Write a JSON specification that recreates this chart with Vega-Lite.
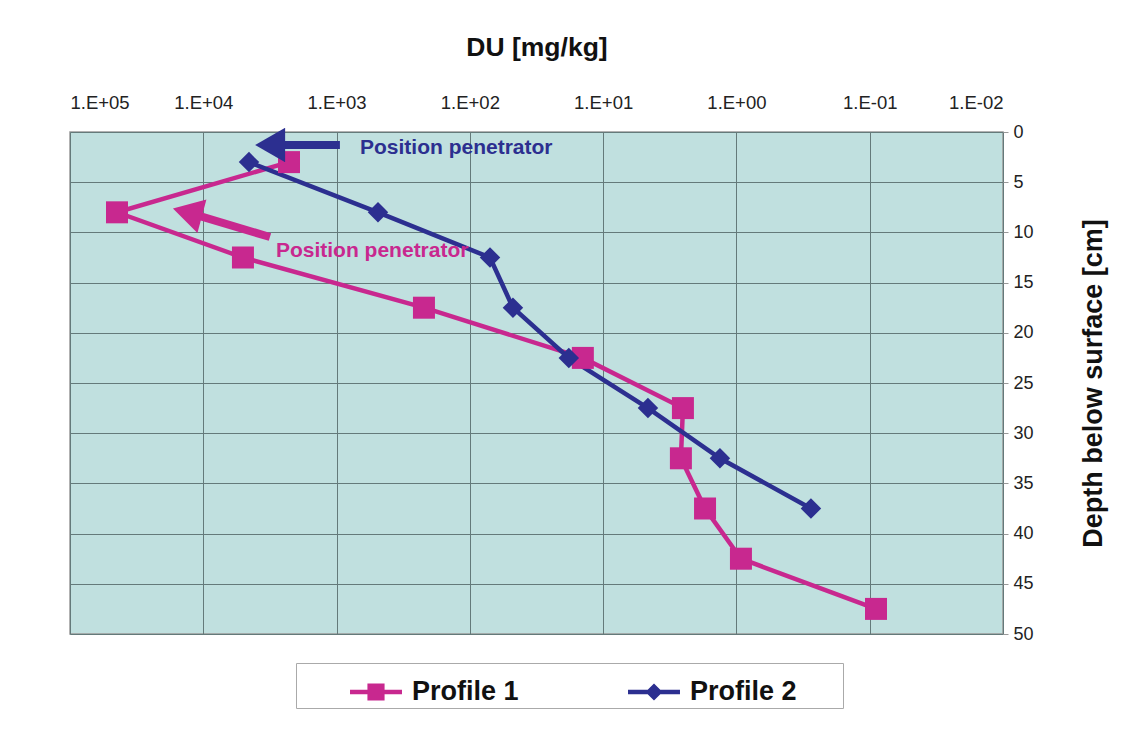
{
  "$schema": "https://vega.github.io/schema/vega-lite/v6.json",
  "autosize": "none",
  "width": 933,
  "height": 502,
  "padding": {"left": 70, "top": 132, "right": 138, "bottom": 96},
  "background": "white",
  "config": {
    "font": "Liberation Sans",
    "view": {"fill": "#C0E0DF", "stroke": "#999999", "strokeWidth": 1.5}
  },
  "datasets": {
    "profiles": [
      {"profile": "Profile 1", "du": 2275, "depth": 3},
      {"profile": "Profile 1", "du": 44400, "depth": 8},
      {"profile": "Profile 1", "du": 5040, "depth": 12.5},
      {"profile": "Profile 1", "du": 221, "depth": 17.5},
      {"profile": "Profile 1", "du": 14.2, "depth": 22.5},
      {"profile": "Profile 1", "du": 2.52, "depth": 27.5},
      {"profile": "Profile 1", "du": 2.61, "depth": 32.5},
      {"profile": "Profile 1", "du": 1.72, "depth": 37.5},
      {"profile": "Profile 1", "du": 0.925, "depth": 42.5},
      {"profile": "Profile 1", "du": 0.0897, "depth": 47.5},
      {"profile": "Profile 2", "du": 4540, "depth": 3},
      {"profile": "Profile 2", "du": 489, "depth": 8},
      {"profile": "Profile 2", "du": 70.6, "depth": 12.5},
      {"profile": "Profile 2", "du": 47.5, "depth": 17.5},
      {"profile": "Profile 2", "du": 18.1, "depth": 22.5},
      {"profile": "Profile 2", "du": 4.61, "depth": 27.5},
      {"profile": "Profile 2", "du": 1.33, "depth": 32.5},
      {"profile": "Profile 2", "du": 0.276, "depth": 37.5}
    ],
    "arrows": [
      {"profile": "Profile 2", "du": 944, "depth": 1.3, "du2": 2700, "depth2": 1.3, "hdu": 3150, "hdepth": 1.3, "angle": 0, "tdu": 667, "tdepth": 1.6, "label": "Position penetrator"},
      {"profile": "Profile 1", "du": 3162, "depth": 10.46, "du2": 11530, "depth2": 8.23, "hdu": 13150, "hdepth": 8.0, "angle": 15, "tdu": 2850, "tdepth": 11.85, "label": "Position penetrator"}
    ]
  },
  "layer": [
    {
      "data": {"name": "profiles"},
      "mark": {"type": "line", "strokeWidth": 4.5},
      "encoding": {
        "x": {
          "field": "du", "type": "quantitative",
          "scale": {"type": "log", "domain": [0.01, 100000], "reverse": true},
          "axis": {
            "orient": "top",
            "values": [100000, 10000, 1000, 100, 10, 1, 0.1, 0.01],
            "labelExpr": "'1.E' + (round(log(datum.value)/LN10) >= 0 ? '+' : '-') + (abs(round(log(datum.value)/LN10)) < 10 ? '0' : '') + abs(round(log(datum.value)/LN10))",
            "grid": true, "gridColor": "#647A7A", "gridOpacity": 1, "gridWidth": 1,
            "domain": false, "ticks": false,
            "labelFontSize": 18.5, "labelColor": "#222222", "labelPadding": 20,
            "title": "DU [mg/kg]", "titleFontSize": 26.5, "titleFontWeight": "bold", "titleColor": "#111111", "titlePadding": 32
          }
        },
        "y": {
          "field": "depth", "type": "quantitative",
          "scale": {"domain": [0, 50], "reverse": true, "nice": false},
          "axis": {
            "orient": "right",
            "values": [0, 5, 10, 15, 20, 25, 30, 35, 40, 45, 50],
            "grid": true, "gridColor": "#647A7A", "gridOpacity": 1, "gridWidth": 1,
            "domain": false, "ticks": true, "tickSize": 5, "tickColor": "#999999",
            "labelFontSize": 18, "labelColor": "#222222", "labelPadding": 5,
            "title": "Depth below surface [cm]", "titleFontSize": 27, "titleFontWeight": "bold", "titleColor": "#111111",
            "titleAngle": 270, "titlePadding": 74
          }
        },
        "color": {
          "field": "profile", "type": "nominal",
          "scale": {"domain": ["Profile 1", "Profile 2"], "range": ["#C8288F", "#2C2F90"]},
          "legend": {
            "orient": "none", "legendX": 226, "legendY": 531,
            "direction": "horizontal", "columns": 2,
            "title": "\u00a0", "titleOrient": "right", "titlePadding": 43, "titleFontSize": 4,
            "strokeColor": "#AAAAAA", "fillColor": "white", "padding": 3,
            "labelFontSize": 27, "labelFontWeight": "bold", "labelColor": "#111111",
            "labelOffset": 10, "columnPadding": 58,
            "symbolSize": 2700, "symbolOffset": 51,
            "encode": {
              "symbols": {
                "update": {
                  "shape": {"signal": "datum.value === 'Profile 1' ? 'M-1,-0.09L1,-0.09L1,0.09L-1,0.09Z M-0.33,-0.33L0.33,-0.33L0.33,0.33L-0.33,0.33Z' : 'M-1,-0.09L1,-0.09L1,0.09L-1,0.09Z M-0.33,0L0,-0.33L0.33,0L0,0.33Z'"},
                  "fill": {"signal": "datum.value === 'Profile 1' ? '#C8288F' : '#2C2F90'"},
                  "stroke": {"value": "transparent"},
                  "strokeWidth": {"value": 0},
                  "size": {"value": 2700},
                  "opacity": {"value": 1},
                  "fillOpacity": {"value": 1}
                }
              }
            }
          }
        },
        "order": {"field": "depth", "type": "quantitative"}
      }
    },
    {
      "data": {"name": "profiles"},
      "mark": {"type": "point", "filled": true, "opacity": 1},
      "encoding": {
        "x": {"field": "du", "type": "quantitative"},
        "y": {"field": "depth", "type": "quantitative"},
        "color": {"field": "profile", "type": "nominal"},
        "shape": {"condition": {"test": "datum.profile === 'Profile 1'", "value": "square"}, "value": "diamond"},
        "size": {"condition": {"test": "datum.profile === 'Profile 1'", "value": 484}, "value": 420}
      }
    },
    {
      "data": {"name": "arrows"},
      "mark": {"type": "rule", "strokeWidth": 8},
      "encoding": {
        "x": {"field": "du", "type": "quantitative"},
        "y": {"field": "depth", "type": "quantitative"},
        "x2": {"field": "du2"},
        "y2": {"field": "depth2"},
        "color": {"field": "profile", "type": "nominal"}
      }
    },
    {
      "data": {"name": "arrows"},
      "mark": {"type": "point", "filled": true, "opacity": 1, "shape": "triangle-left", "size": 1200},
      "encoding": {
        "x": {"field": "hdu", "type": "quantitative"},
        "y": {"field": "hdepth", "type": "quantitative"},
        "angle": {"field": "angle", "type": "quantitative", "scale": null},
        "color": {"field": "profile", "type": "nominal"}
      }
    },
    {
      "data": {"name": "arrows"},
      "mark": {"type": "text", "align": "left", "baseline": "middle", "fontSize": 21, "fontWeight": "bold"},
      "encoding": {
        "x": {"field": "tdu", "type": "quantitative"},
        "y": {"field": "tdepth", "type": "quantitative"},
        "text": {"field": "label"},
        "color": {"field": "profile", "type": "nominal"}
      }
    }
  ]
}
